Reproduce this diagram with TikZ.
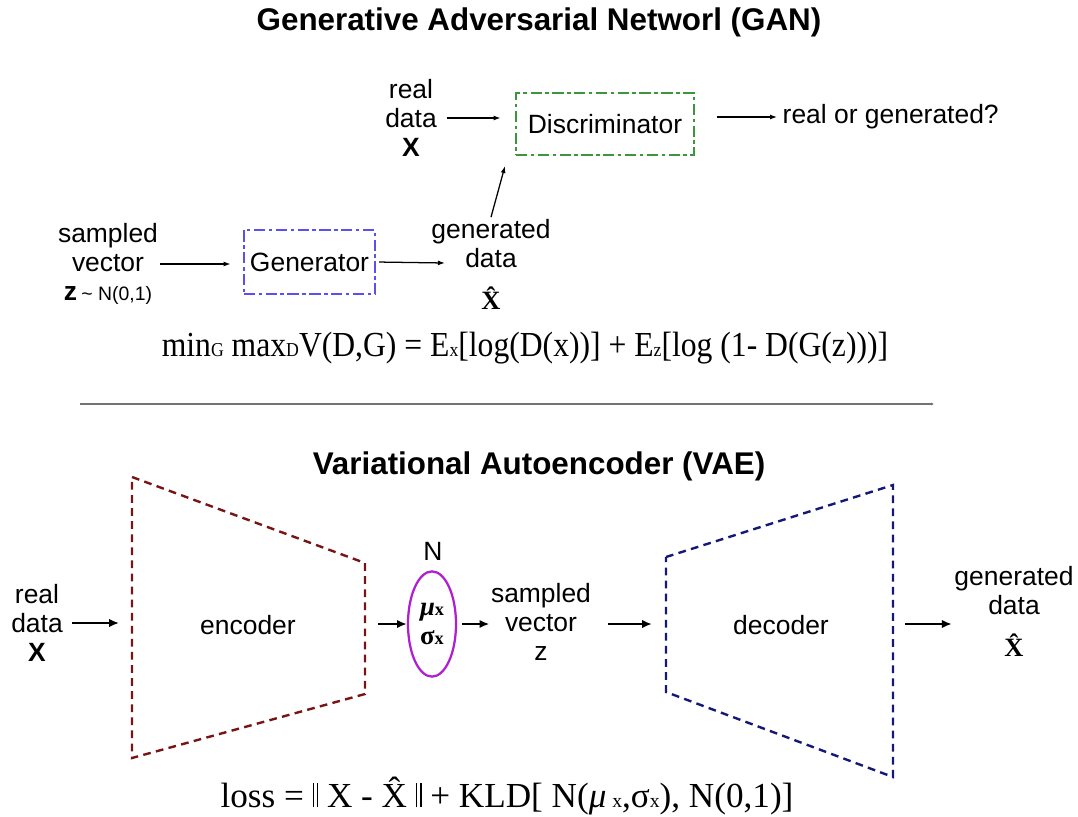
\documentclass[tikz,border=0pt]{standalone}
\usepackage{amsmath}
\usepackage{fontspec}
\setmainfont{Liberation Serif}
\setsansfont{Liberation Sans}
\newfontfamily\eqfont[FakeStretch=0.9]{Liberation Serif}
\usetikzlibrary{arrows.meta,shapes.geometric}

\definecolor{discgreen}{RGB}{60,150,60}
\definecolor{genblue}{RGB}{90,80,240}
\definecolor{encred}{RGB}{120,20,20}
\definecolor{decnavy}{RGB}{20,25,120}
\definecolor{gaussmag}{RGB}{175,30,210}

\newcommand{\lo}[2][14]{{\fontsize{#1}{#1}\selectfont #2}}
\newcommand{\dbar}{\rule{0.8pt}{0.68em}\kern2.4pt\rule{0.8pt}{0.68em}}
\newcommand{\xhat}{\leavevmode\vbox{\offinterlineskip\halign{\hfil##\hfil\cr ˆ\cr\noalign{\kern-0.5em}X\cr}}}

\begin{document}
\begin{tikzpicture}[x=0.025cm, y=-0.025cm, every node/.style={font=\sffamily\fontsize{18.8}{20.8}\selectfont, align=center, inner sep=1pt}, >={Latex[length=5pt, width=3.5pt]}, ttl/.style={font=\sffamily\bfseries\fontsize{22.3}{26}\selectfont}, eqn/.style={font=\eqfont\fontsize{25}{28}\selectfont}, ganbox/.style={draw, line width=1.8pt, dash pattern=on 8pt off 2.5pt on 2.5pt off 2.5pt, inner sep=0pt}, arr/.style={->, line width=0.9pt}, varr/.style={-{Latex[length=7pt, width=6pt]}, line width=1.6pt}, trap/.style={line width=1.7pt, dash pattern=on 5.5pt off 3.8pt}]
	\useasboundingbox (0,0) rectangle (1078,816);
	\node[ttl] (gantitle) at (539,22) {Generative Adversarial Networl (GAN)};
	\node (realx) at (411,118) {real\\data\\\textbf{X}};
	\node[ganbox, draw=discgreen, minimum width=4.45cm, minimum height=1.55cm] (disc) at (605,124) {Discriminator};
	\node[anchor=west] (realgen) at (781,117) {real or generated?};
	\node (zvec) at (108,264) {sampled\\vector\\\textbf{z}\,\lo[13.8]{\textasciitilde\ N(0,1)}};
	\node[ganbox, draw=genblue, minimum width=3.28cm, minimum height=1.6cm] (gen) at (309.5,262) {Generator};
	\node (gendata) at (491,264) {generated\\data\\[9pt]{\rmfamily\bfseries\xhat}};
	\coordinate (gendatain) at (445,263);
	\coordinate (discin) at (505,166);
	\draw[arr, shorten <=6.4pt, shorten >=10pt] (realx.east) -- (realx.east -| disc.west);
	\draw[arr, shorten <=15.6pt, shorten >=2.8pt] (disc.east |- realgen.west) -- (realgen.west);
	\draw[arr, shorten <=0.4pt, shorten >=8.5pt] (zvec.east) -- (zvec.east -| gen.west);
	\draw[arr, shorten <=2pt] (gen.east) -- (gendatain);
	\draw[arr] (gendata.north) -- (discin);
	\node[eqn] (ganobj) at (525,348) {min\lo{G} max\lo{D}V(D,G) = E\lo{x}[log(D(x))] + E\lo{z}[log (1- D(G(z)))]};
	\coordinate (sepl) at (80,404);
	\coordinate (sepr) at (934,404);
	\draw[line width=1pt, black!55, -{Latex[length=2pt, width=2pt]}] (sepl) -- (sepr);
	\node[ttl] (vaetitle) at (539,466) {Variational Autoencoder (VAE)};
	\draw[trap, encred] (132,477) -- (365,563) -- (365,694) -- (132,758) -- cycle;
	\draw[trap, decnavy] (666,557) -- (893,485) -- (893,777) -- (666,692) -- cycle;
	\coordinate (encW) at (132,624);
	\coordinate (encE) at (365,624);
	\coordinate (decW) at (666,624);
	\coordinate (decE) at (893,624);
	\node (encoder) at (248,625) {encoder};
	\node (decoder) at (781,625) {decoder};
	\node (vreal) at (37,623) {real\\data\\\textbf{X}};
	\node[draw=gaussmag, ellipse, line width=1.6pt, minimum width=1.2cm, minimum height=2.63cm, inner sep=0pt, font=\rmfamily\bfseries\fontsize{19}{21.3}\selectfont] (musig) at (432,624) {\textit{μ}\lo[13]{x}\\σ\lo[13]{x}};
	\node (gaussN) at (433,551) {N};
	\node (vz) at (541,622) {sampled\\vector\\z};
	\node (vgen) at (1014,611) {generated\\data\\[9pt]{\rmfamily\bfseries\xhat}};
	\draw[varr, shorten <=5.7pt, shorten >=9.2pt] (vreal.east) -- (vreal.east -| encW);
	\draw[varr, shorten <=9.2pt] (encE) -- (musig.west);
	\draw[varr, shorten <=3.5pt] (musig.east) -- (musig.east -| vz.west);
	\draw[varr, shorten <=11pt, shorten >=10pt] (decW -| vz.east) -- (decW);
	\draw[varr, shorten <=8.5pt, shorten >=0.7pt] (decE) -- (decE -| vgen.west);
	\node[font=\rmfamily\fontsize{25}{28}\selectfont] (vaeloss) at (507,796) {loss = \dbar{} X - \xhat{} \dbar{} + KLD[ N(\textit{μ}\,\lo{x},σ\lo{x}), N(0,1)]};
\end{tikzpicture}
\end{document}
